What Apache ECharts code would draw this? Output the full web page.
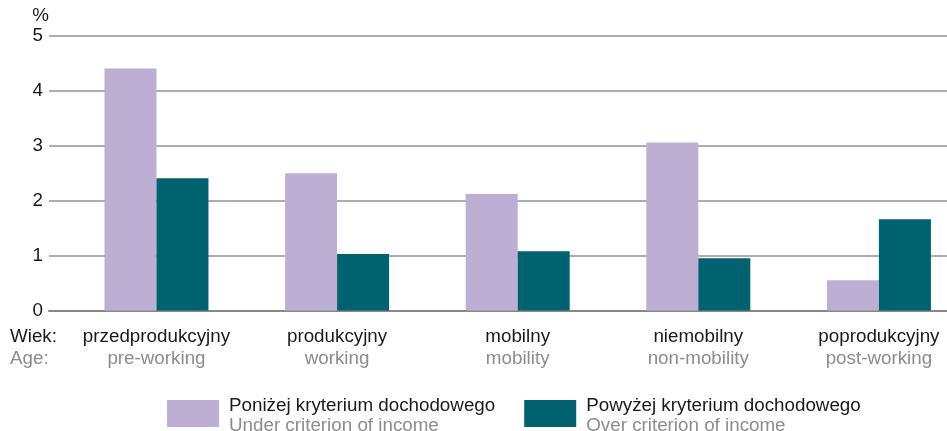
<!DOCTYPE html>
<html>
<head>
<meta charset="utf-8">
<script src="https://cdn.jsdelivr.net/npm/echarts@6/dist/echarts.min.js"></script>
<style>
  html, body { margin: 0; padding: 0; background: #fff; }
  #chart { width: 947px; height: 431px; }
</style>
</head>
<body>
<div id="chart"></div>
<script>
// Age groups (Polish / English)
const groupsPl = ['przedprodukcyjny', 'produkcyjny', 'mobilny', 'niemobilny', 'poprodukcyjny'];
const groupsEn = ['pre-working', 'working', 'mobility', 'non-mobility', 'post-working'];

// Shares in %
const belowIncome = [4.41, 2.50, 2.12, 3.06, 0.55];
const aboveIncome = [2.41, 1.03, 1.08, 0.95, 1.66];

const seriesNamesPl = ['Poniżej kryterium dochodowego', 'Powyżej kryterium dochodowego'];
const seriesNamesEn = ['Under criterion of income', 'Over criterion of income'];

const yTicks = [0, 1, 2, 3, 4, 5];

const FONT = '"Liberation Sans", Arial, sans-serif';
const FS = 18.8;
const LAVENDER = '#bdaed4';
const TEAL = '#00626e';
const INK = '#1a1a1a';
const GREY_TEXT = '#8c8c8c';

// Group slots on a numeric x axis: group i sits at x = i; the plot
// starts a little before the first group and stops short of a sixth slot.
const slotIdx = groupsPl.map((_, i) => i);
const X_MIN = -0.595;
const X_MAX = 4.377;

const chart = echarts.init(document.getElementById('chart'), null, { renderer: 'canvas' });

const legendEn = {};
seriesNamesPl.forEach((p, i) => { legendEn[p] = seriesNamesEn[i]; });

function twoLineRich(lh) {
  return {
    pl: { fontSize: FS, color: INK, lineHeight: lh, fontFamily: FONT, fontWeight: 'normal' },
    en: { fontSize: FS, color: GREY_TEXT, lineHeight: lh, fontFamily: FONT, fontWeight: 'normal' }
  };
}

chart.setOption({
  animation: false,
  textStyle: { fontFamily: FONT },
  grid: { left: 49, right: 0, top: 36, bottom: 120.5 },
  title: {
    left: 10,
    top: 326,
    padding: 0,
    text: '{pl|Wiek:}\n{en|Age:}',
    textStyle: { fontFamily: FONT, fontWeight: 'normal', rich: twoLineRich(22) }
  },
  xAxis: {
    type: 'value', min: X_MIN, max: X_MAX,
    axisLine: { show: true, onZero: false, lineStyle: { color: '#888', width: 2 } },
    axisTick: { show: false }, splitLine: { show: false },
    axisLabel: {
      margin: 15,
      customValues: slotIdx,
      formatter: v => {
        const i = Math.round(v);
        return '{pl|' + groupsPl[i] + '}\n{en|' + groupsEn[i] + '}';
      },
      rich: twoLineRich(22)
    }
  },
  yAxis: {
    type: 'value', min: 0, max: 5, interval: 1,
    name: '%', nameLocation: 'end', nameGap: 11,
    nameTextStyle: { fontSize: FS, color: INK, align: 'right', fontFamily: FONT },
    axisLine: { show: false, onZero: false }, axisTick: { show: false },
    axisLabel: { fontSize: FS, color: INK, margin: 6, fontFamily: FONT, customValues: yTicks },
    splitLine: { show: true, lineStyle: { color: '#adadad', width: 2 } }
  },
  legend: {
    left: 167,
    top: 396,
    padding: 0,
    itemWidth: 52,
    itemHeight: 27,
    itemGap: 29,
    icon: 'rect',
    data: seriesNamesPl,
    formatter: n => '{pl|' + n + '}\n{en|' + legendEn[n] + '}',
    textStyle: { padding: [4, 0, 0, 5], rich: twoLineRich(20) }
  },
  series: [
    {
      name: seriesNamesPl[0], type: 'bar',
      data: belowIncome.map((v, i) => [slotIdx[i], v]),
      barWidth: 52, barGap: '0%',
      itemStyle: { color: LAVENDER }
    },
    {
      name: seriesNamesPl[1], type: 'bar',
      data: aboveIncome.map((v, i) => [slotIdx[i], v]),
      barWidth: 52, barGap: '0%',
      itemStyle: { color: TEAL }
    }
  ]
});
</script>
</body>
</html>
